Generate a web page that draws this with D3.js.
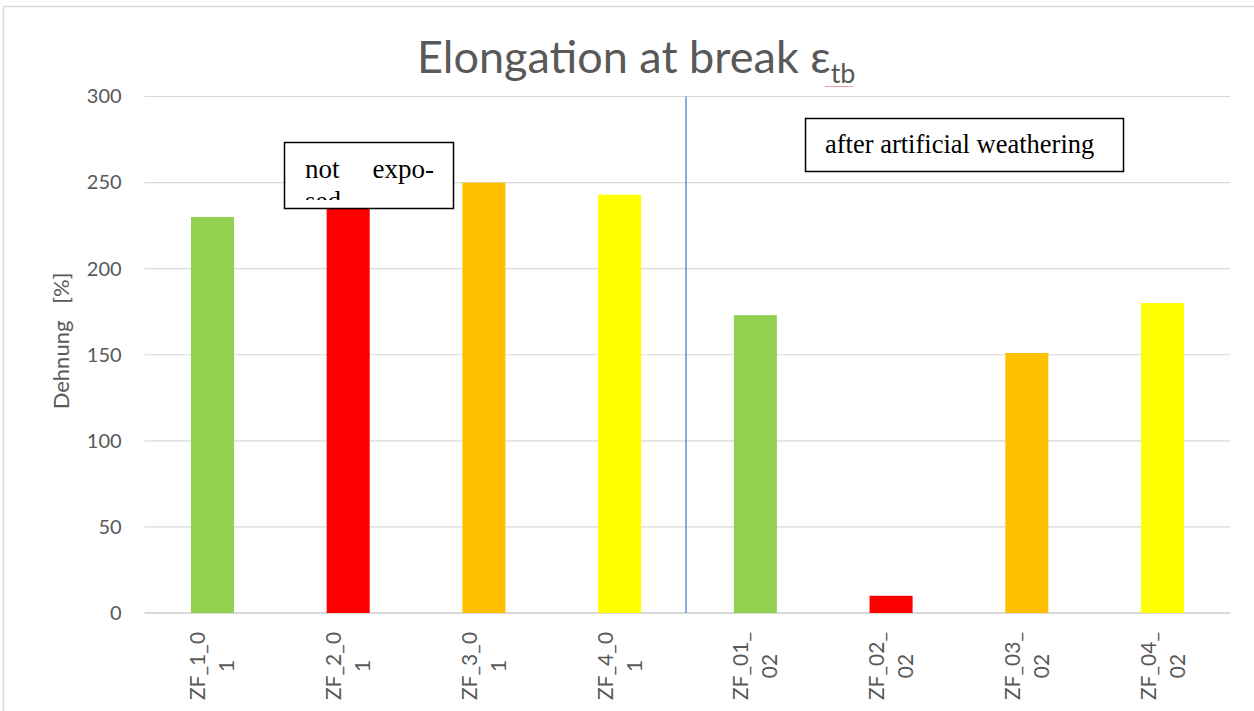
<!DOCTYPE html>
<html>
<head>
<meta charset="utf-8">
<script src="https://cdn.jsdelivr.net/npm/d3@7"></script>
<style>
  html, body { margin: 0; padding: 0; background: #fff; }
  svg { display: block; }
</style>
</head>
<body>
<svg id="chart" width="1254" height="711"></svg>
<script>
// Sample names, elongation values [%] and bar colours
const categories = ["ZF_1_01", "ZF_2_01", "ZF_3_01", "ZF_4_01", "ZF_01_02", "ZF_02_02", "ZF_03_02", "ZF_04_02"];
const labelLines = [["ZF_1_0", "1"], ["ZF_2_0", "1"], ["ZF_3_0", "1"], ["ZF_4_0", "1"],
                    ["ZF_01_", "02"], ["ZF_02_", "02"], ["ZF_03_", "02"], ["ZF_04_", "02"]];
const values = [230, 238, 250, 243, 173, 10, 151, 180];
const colors = ["#92D050", "#FF0000", "#FFC000", "#FFFF00", "#92D050", "#FF0000", "#FFC000", "#FFFF00"];
const yTicks = [0, 50, 100, 150, 200, 250, 300];

const svg = d3.select("#chart");
const plot = { left: 144.6, right: 1230.4, top: 96.5, bottom: 613 };

// outer frame of the chart area
svg.append("rect")
  .attr("x", 3.5).attr("y", 6.5).attr("width", 1300).attr("height", 800)
  .attr("fill", "#fff").attr("stroke", "#D9D9D9").attr("stroke-width", 1.5);

const x = d3.scaleBand()
  .domain(categories)
  .range([plot.left, plot.right])
  .paddingInner(0.683)
  .paddingOuter(0.3415);

const y = d3.scaleLinear().domain([0, 300]).range([plot.bottom, plot.top]);

// horizontal gridlines
svg.append("g").selectAll("line")
  .data(yTicks)
  .join("line")
  .attr("x1", plot.left).attr("x2", plot.right)
  .attr("y1", d => y(d)).attr("y2", d => y(d))
  .attr("stroke", "#D9D9D9")
  .attr("stroke-width", d => d === 0 ? 2 : 1.2);

// y axis tick labels
const yAxis = d3.axisLeft(y).tickValues(yTicks).tickSize(0).tickPadding(0);
const gy = svg.append("g").attr("transform", `translate(${plot.left - 23},0)`).call(yAxis);
gy.select(".domain").remove();
gy.selectAll("text")
  .attr("font-family", "Lato, 'Open Sans', sans-serif")
  .attr("font-size", 20)
  .attr("fill", "#595959");

// bars
svg.append("g").selectAll("rect")
  .data(values)
  .join("rect")
  .attr("x", (d, i) => x(categories[i]))
  .attr("width", x.bandwidth())
  .attr("y", d => y(d))
  .attr("height", d => y(0) - y(d))
  .attr("fill", (d, i) => colors[i]);

// separator between the two test series
const sepX = x(categories[4]) - x.step() * x.paddingInner() / 2;
svg.append("line")
  .attr("x1", sepX - 1.5).attr("x2", sepX - 1.5)
  .attr("y1", plot.top).attr("y2", plot.bottom)
  .attr("stroke", "#4472C4").attr("stroke-width", 1.2);

// rotated, two-line category labels
const xl = svg.append("g");
categories.forEach((c, i) => {
  const cx = x(c) + x.bandwidth() / 2;
  const t = xl.append("text")
    .attr("transform", `translate(${cx},666) rotate(-90)`)
    .attr("text-anchor", "middle")
    .attr("font-family", "Lato, 'Open Sans', sans-serif")
    .attr("font-size", 21)
    .attr("fill", "#595959");
  labelLines[i].forEach((line, k) => {
    t.append("tspan")
      .attr("x", 0)
      .attr("y", (k === 0 ? -14.5 : 14.5) + 7.5)
      .text(line);
  });
});

// y axis title
svg.append("text")
  .attr("transform", "translate(69,341) rotate(-90)")
  .attr("text-anchor", "middle")
  .attr("font-family", "Lato, 'Open Sans', sans-serif")
  .attr("font-size", 22)
  .attr("fill", "#595959")
  .style("white-space", "pre")
  .text("Dehnung   [%]");

// title with subscript
const title = svg.append("text")
  .attr("x", 417).attr("y", 73)
  .attr("font-family", "Lato, 'Open Sans', sans-serif")
  .attr("font-size", 45)
  .attr("fill", "#595959");
title.append("tspan").text("Elongation at break ε");
title.append("tspan").attr("dy", 10).attr("font-size", 27).text("tb");
// spell-check squiggle under the subscript
svg.append("line")
  .attr("x1", 825).attr("x2", 853).attr("y1", 86.5).attr("y2", 86.5)
  .attr("stroke", "#E8A0A0").attr("stroke-width", 1);

// annotation: not exposed (second line cut off by the text frame)
svg.append("defs").append("clipPath").attr("id", "clipBox1")
  .append("rect").attr("x", 285).attr("y", 143).attr("width", 168).attr("height", 57);
svg.append("rect")
  .attr("x", 284.5).attr("y", 142.5).attr("width", 169).attr("height", 66)
  .attr("fill", "#fff").attr("stroke", "#000").attr("stroke-width", 1.5);
const box1 = svg.append("g").attr("clip-path", "url(#clipBox1)")
  .attr("font-family", "'Liberation Serif', 'Times New Roman', serif")
  .attr("font-size", 27).attr("fill", "#000");
box1.append("text").attr("x", 305).attr("y", 178).text("not");
box1.append("text").attr("x", 434).attr("y", 178).attr("text-anchor", "end").text("expo-");
box1.append("text").attr("x", 305).attr("y", 210).text("sed");

// annotation: after artificial weathering
svg.append("rect")
  .attr("x", 805.5).attr("y", 118.5).attr("width", 318).attr("height", 53)
  .attr("fill", "#fff").attr("stroke", "#000").attr("stroke-width", 1.5);
svg.append("text")
  .attr("x", 825).attr("y", 153)
  .attr("font-family", "'Liberation Serif', 'Times New Roman', serif")
  .attr("font-size", 26.5).attr("fill", "#000")
  .text("after artificial weathering");
</script>
</body>
</html>
